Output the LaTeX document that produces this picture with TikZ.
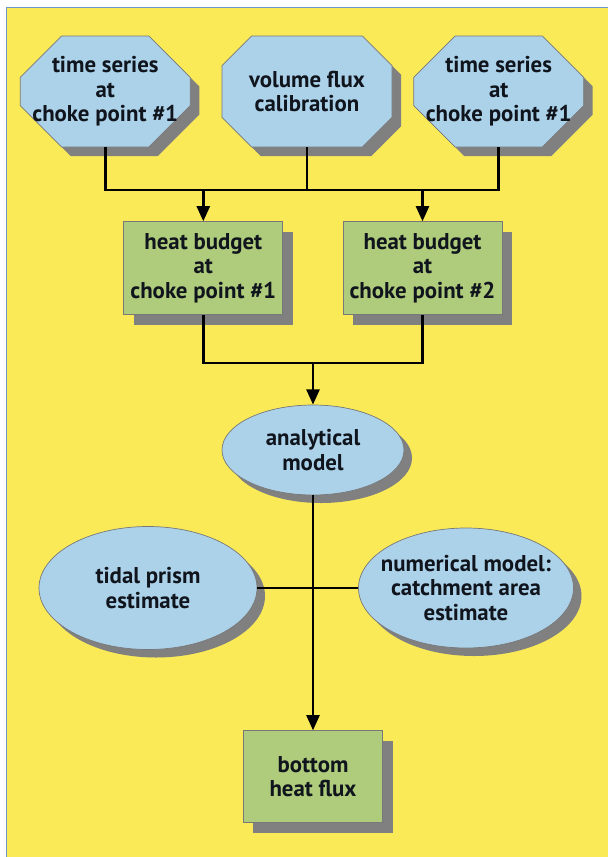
\documentclass[tikz,border=0pt]{standalone}
\usepackage{fontspec}
\setmainfont{PT Sans}
\usetikzlibrary{positioning, shapes.misc, shapes.geometric, shadows, arrows.meta}

\definecolor{bgyellow}{RGB}{250,234,88}
\definecolor{boxblue}{RGB}{172,210,234}
\definecolor{boxgreen}{RGB}{174,204,124}
\definecolor{shadowgray}{RGB}{128,128,128}
\definecolor{edgegray}{RGB}{120,120,120}
\definecolor{framecol}{RGB}{110,150,200}
\definecolor{textcol}{RGB}{16,20,28}

\begin{document}
\begin{tikzpicture}[x=0.03cm,y=-0.03cm,
		basenode/.style={draw=edgegray,line width=0.6pt,text=textcol,font=\fontsize{19.5}{21}\selectfont\bfseries,align=center,inner sep=0pt},
		octnode/.style={basenode,chamfered rectangle,chamfered rectangle xsep=0.62cm,chamfered rectangle ysep=0.62cm,inner xsep=-0.62cm,inner ysep=-0.35cm,minimum width=5.1cm,minimum height=3.33cm,fill=boxblue,general shadow={fill=shadowgray,shadow xshift=0.27cm,shadow yshift=-0.27cm}},
		boxnode/.style={basenode,rectangle,fill=boxgreen,minimum width=4.77cm,minimum height=2.79cm,general shadow={fill=shadowgray,shadow xshift=0.3cm,shadow yshift=-0.3cm}},
		ovalnode/.style={basenode,ellipse,inner xsep=-0.5cm,fill=boxblue,general shadow={fill=shadowgray,shadow xshift=0.24cm,shadow yshift=-0.24cm}},
		link/.style={line width=2.4pt},
		arrow/.style={link,-{Triangle[width=11pt,length=13pt]}}]

		% yellow panel
		\useasboundingbox (0,0) rectangle (608,857);
		\fill[bgyellow] (6,7) rectangle (608,857);
		\draw[framecol,line width=0.8pt] (6,857) -- (6,7) -- (608,7);

		\node[octnode]											(1) at (307,91.5)	{volume flux\\calibration};
		\node[octnode,node distance=0.93cm,left=of 1]			(2)		{time series\\at\\choke point \#1};
		\node[octnode,node distance=0.63cm,right=of 1]			(3)		{time series\\at\\choke point \#1};
		\node[boxnode,node distance=2.22cm,below=of 2,xshift=2.94cm]	(4)		{heat budget\\at\\choke point \#1};
		\node[boxnode,node distance=1.785cm,right=of 4]		(5)		{heat budget\\at\\choke point \#2};
		\node[ovalnode,minimum width=5.46cm,minimum height=2.7cm]	(6) at (313,450)	{analytical\\model};
		\node[ovalnode,minimum width=6.54cm,minimum height=3.69cm]	(7) at (148,588)	{tidal prism\\estimate};
		\node[ovalnode,minimum width=6.45cm,minimum height=3.6cm]	(8) at (466,588)	{numerical model:\\catchment area\\estimate};
		\node[boxnode,minimum width=4.17cm,minimum height=2.76cm,node distance=7.05cm,below=of 6]	(9)	{bottom\\heat flux};

		\draw[link] (2.south) -- (2.south |- 0,190) -- (3.south |- 0,190) -- (3.south);
		\draw[link] (1.south) -- (1.south |- 0,190);
		\draw[arrow] (4.north |- 0,190) -- (4.north);
		\draw[arrow] (5.north |- 0,190) -- (5.north);
		\draw[link] (4.south) -- (4.south |- 0,363) -- (5.south |- 0,363) -- (5.south);
		\draw[arrow] (6.north |- 0,363) -- (6.north);
		\draw[arrow] (6.south) -- (9.north);
		\draw[link] (7.east) -- (8.west);
	\end{tikzpicture}
\end{document}
